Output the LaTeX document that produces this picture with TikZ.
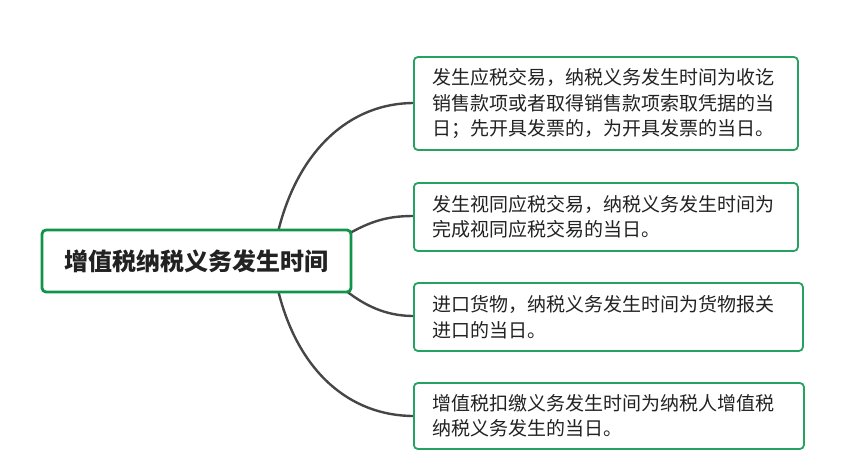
\documentclass[tikz,border=0pt]{standalone}
\usepackage{fontspec}
\newfontfamily\cjk{Noto Sans CJK SC}
\definecolor{rootgreen}{HTML}{11944A}
\definecolor{leafgreen}{HTML}{26A260}
\definecolor{linkgray}{HTML}{464646}
\definecolor{txt}{HTML}{222222}
\begin{document}
\begin{tikzpicture}[x=1pt,y=-1pt,
  rootbox/.style={draw=rootgreen,line width=2.8pt,rounded corners=4pt,fill=white,
    minimum width=309pt,minimum height=62pt,inner sep=0pt,
    font=\cjk\bfseries\fontsize{24}{28}\selectfont,text=txt},
  leafbox/.style={draw=leafgreen,line width=1.8pt,rounded corners=4pt,fill=white,
    anchor=west,inner xsep=19pt,inner ysep=0pt,align=left,
    font=\cjk\fontsize{19}{25.5}\selectfont,text=txt},
  link/.style={draw=linkgray,line width=2.4pt}]
\useasboundingbox (0,0) rectangle (868,475);
% connectors first (drawn under boxes)
\coordinate (r1) at (278,232);
\coordinate (r2) at (350,233);
\coordinate (r3) at (345,290);
\coordinate (r4) at (278,290);
\coordinate (l1) at (414,103);
\coordinate (l2) at (414,216);
\coordinate (l3) at (414,316);
\coordinate (l4) at (414,416);
\draw[link] (r1) .. controls (298,150) and (350,103) .. (l1);
\draw[link] (r2) .. controls (375,219) and (392,216) .. (l2);
\draw[link] (r3) .. controls (370,310) and (392,316) .. (l3);
\draw[link] (r4) .. controls (298,372) and (350,416) .. (l4);
\node[rootbox] (root) at (196.5,261) {增值税纳税义务发生时间};
\node[leafbox,text width=346pt,minimum height=93pt] (a) at (413,103.5)
  {发生应税交易，纳税义务发生时间为收讫\\销售款项或者取得销售款项索取凭据的当\\日；先开具发票的，为开具发票的当日。};
\node[leafbox,text width=346pt,minimum height=68pt] (b) at (413,217)
  {发生视同应税交易，纳税义务发生时间为\\完成视同应税交易的当日。};
\node[leafbox,text width=351pt,minimum height=68pt] (c) at (413,317)
  {进口货物，纳税义务发生时间为货物报关\\进口的当日。};
\node[leafbox,text width=352pt,minimum height=66pt] (d) at (413,416)
  {增值税扣缴义务发生时间为纳税人增值税\\纳税义务发生的当日。};
\end{tikzpicture}
\end{document}
